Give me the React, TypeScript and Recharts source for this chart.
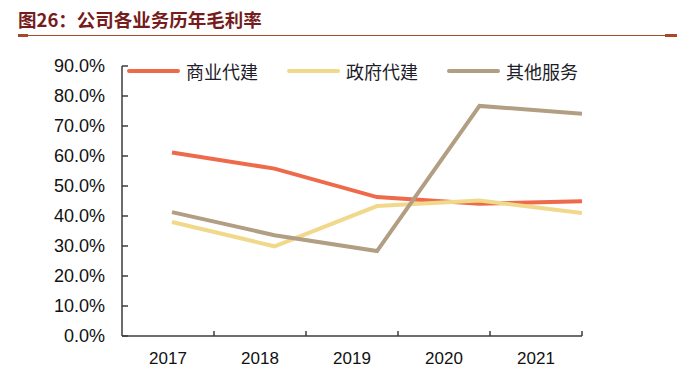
import React from 'react';
import { LineChart, Line, XAxis, YAxis, Legend } from 'recharts';

const years = ['2017', '2018', '2019', '2020', '2021'];
const commercial = [61.2, 55.8, 46.3, 44.1, 44.9];
const government = [38.0, 29.9, 43.3, 45.2, 41.0];
const otherServices = [41.3, 33.6, 28.3, 76.7, 74.1];
const yTicks = [0, 10, 20, 30, 40, 50, 60, 70, 80, 90];

const seriesDefs = [
  { key: 'commercial', name: '商业代建', color: '#EE6A4B' },
  { key: 'government', name: '政府代建', color: '#F1D98B' },
  { key: 'other', name: '其他服务', color: '#B29E82' },
];

const data = years.map((y, i) => ({
  idx: i,
  year: y,
  commercial: commercial[i],
  government: government[i],
  other: otherServices[i],
}));

const W = 677;
const H = 386;
const M = { top: 66, right: 95, bottom: 20, left: 62 };
const plotW = W - M.left - M.right - 60;
const bandPx = plotW / years.length;

// point spacing wider than label bands (as in source chart)
const xLo = -0.4878;
const xHi = years.length - 1;
const bandUnits = (xHi - xLo) / years.length;
const xTicks = years.map((_, k) => xLo + (k + 1) * bandUnits);

const FONT = '"Liberation Sans", Arial, sans-serif';
const CJK = '"Noto Sans CJK SC", "Noto Sans", sans-serif';

const XTick = (props: any) => {
  const { x, y, index } = props;
  return (
    <text
      x={x - bandPx / 2}
      y={y + 33}
      textAnchor="middle"
      fontSize={17}
      fontFamily={FONT}
      fill="#111"
    >
      {years[index]}
    </text>
  );
};

const renderLegend = () => (
  <div style={{ display: 'flex', paddingLeft: 127 }}>
    {seriesDefs.map((s) => (
      <div key={s.key} style={{ display: 'flex', alignItems: 'center', width: 160 }}>
        <div style={{ width: 53, height: 4, background: s.color, borderRadius: 2 }} />
        <span
          style={{
            marginLeft: 6,
            fontSize: 18,
            fontFamily: CJK,
            color: '#1c1c2a',
            lineHeight: '22px',
          }}
        >
          {s.name}
        </span>
      </div>
    ))}
  </div>
);

export default function App() {
  return (
    <div style={{ position: 'absolute', left: 0, top: 0, width: W, height: H, background: '#fff' }}>
      <div
        style={{
          position: 'absolute',
          left: 18,
          top: 6,
          fontSize: 18.5,
          fontWeight: 700,
          fontFamily: CJK,
          color: '#761C1C',
          lineHeight: '27px',
          whiteSpace: 'nowrap',
        }}
      >
        图26：公司各业务历年毛利率
      </div>
      <div style={{ position: 'absolute', left: 18, top: 35, width: 647, height: 1, background: '#A8482A' }} />
      <div style={{ position: 'absolute', left: 18, top: 34, width: 10, height: 3, background: '#A8482A' }} />
      <div style={{ position: 'absolute', left: 665, top: 34, width: 12, height: 3, background: '#A8482A' }} />
      <div style={{ position: 'absolute', left: 0, top: 0 }}>
        <LineChart width={W} height={H} data={data} margin={M}>
          <XAxis
            dataKey="idx"
            type="number"
            domain={[xLo, xHi]}
            ticks={xTicks}
            allowDataOverflow
            interval={0}
            height={30}
            tickSize={-5}
            tickMargin={0}
            tick={<XTick />}
            stroke="#3c3c3c"
            strokeWidth={1.5}
          />
          <YAxis
            type="number"
            domain={[0, 90]}
            ticks={yTicks}
            interval={0}
            width={60}
            tickSize={-6}
            tickMargin={23}
            tickFormatter={(v: number) => `${v.toFixed(1)}%`}
            tick={{ fontSize: 18, fontFamily: FONT, fill: '#111' }}
            stroke="#3c3c3c"
            strokeWidth={1.5}
          />
          <Legend
            layout="horizontal"
            verticalAlign="middle"
            align="center"
            content={renderLegend}
            wrapperStyle={{ position: 'absolute', top: 60, left: 0, width: W, height: 22 }}
          />
          {seriesDefs.map((s) => (
            <Line
              key={s.key}
              dataKey={s.key}
              name={s.name}
              stroke={s.color}
              strokeWidth={4}
              dot={false}
              activeDot={false}
              isAnimationActive={false}
              strokeLinejoin="miter"
            />
          ))}
        </LineChart>
      </div>
    </div>
  );
}
